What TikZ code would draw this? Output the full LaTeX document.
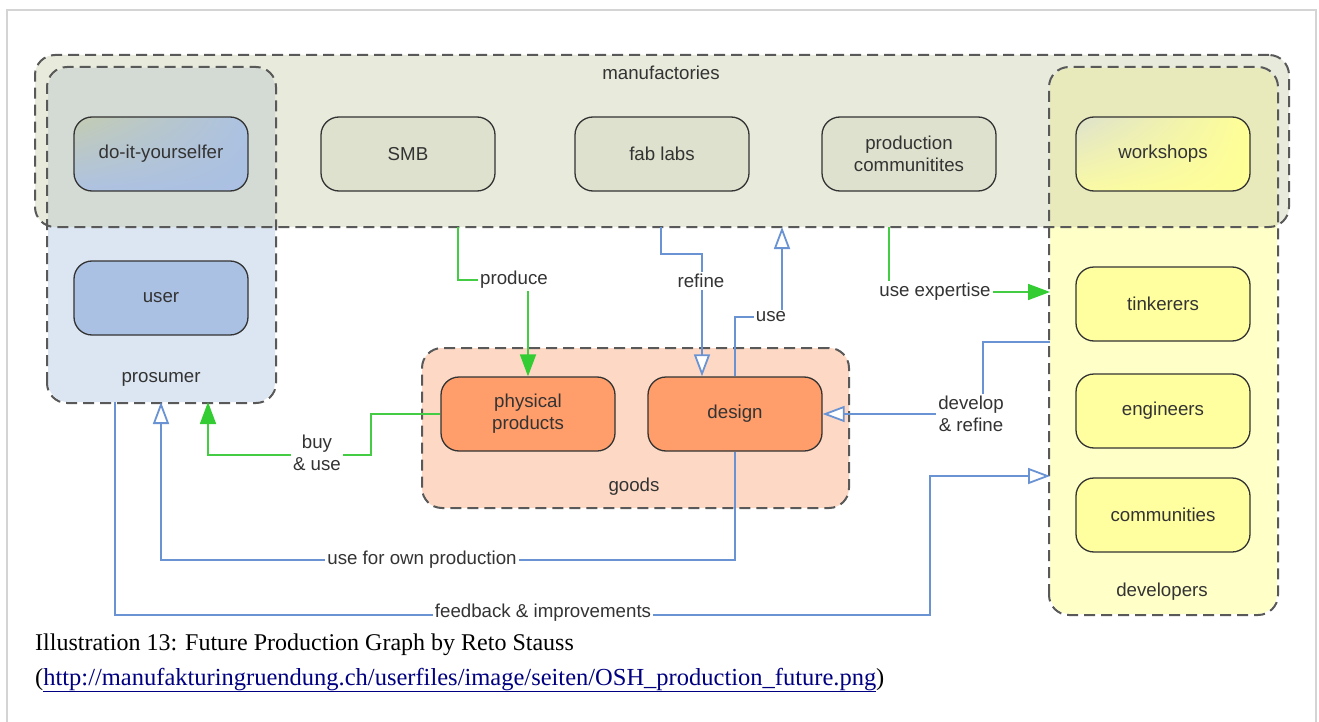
\documentclass[tikz,border=0pt]{standalone}
\usepackage{fontspec}
\newfontfamily\labfont{Liberation Sans}
\newfontfamily\capfont{Liberation Serif}
\usetikzlibrary{arrows.meta,calc,shadings}

\definecolor{manuf}{RGB}{198,203,168}
\definecolor{prosfill}{RGB}{220,230,242}
\definecolor{devfill}{RGB}{255,255,200}
\definecolor{goodsfill}{RGB}{253,217,197}
\definecolor{mnode}{RGB}{222,225,205}
\definecolor{unode}{RGB}{171,193,227}
\definecolor{ynode}{RGB}{255,255,160}
\definecolor{onode}{RGB}{255,158,107}
\definecolor{txt}{RGB}{51,51,51}
\definecolor{edgeblue}{RGB}{106,147,212}
\definecolor{edgegreen}{RGB}{68,204,68}
\definecolor{arrowgreen}{RGB}{51,204,51}
\definecolor{framegray}{RGB}{212,212,212}
\definecolor{linkblue}{RGB}{0,0,128}
% gradient corners of the two mixed-role boxes
\definecolor{diyUL}{RGB}{196,204,178}
\definecolor{diyUR}{RGB}{172,194,226}
\definecolor{diyLL}{RGB}{174,194,226}
\definecolor{diyLR}{RGB}{170,192,226}
\definecolor{wsUL}{RGB}{222,226,205}
\definecolor{wsUR}{RGB}{255,255,150}
\definecolor{wsLL}{RGB}{250,250,165}
\definecolor{wsLR}{RGB}{255,255,150}

\tikzset{
  x=1pt, y=-1pt,
  sansfont/.style={font=\labfont\fontsize{18.7}{22}\selectfont, text=txt},
  group/.style={draw=black!65, line width=2pt, dash pattern=on 11pt off 6pt,
    rounded corners=20pt, inner sep=0pt},
  groupborder/.style={draw=black!65, line width=2pt, dash pattern=on 11pt off 6pt,
    rounded corners=20pt},
  box/.style={sansfont, draw=black!80, line width=1.3pt, rounded corners=18pt,
    minimum width=174pt, minimum height=74pt, align=center, inner sep=0pt},
  grouplabel/.style={sansfont, inner sep=0pt},
  lbl/.style={sansfont, fill=white, inner sep=2pt, align=center},
  blueline/.style={draw=edgeblue, line width=1.8pt,
    -{Triangle[open, fill=white, length=22pt, width=16pt]}},
  greenline/.style={draw=edgegreen, line width=1.8pt,
    -{Triangle[length=22pt, width=16pt, fill=arrowgreen, color=arrowgreen]}},
}

\begin{document}
\begin{tikzpicture}
\path[use as bounding box, fill=white] (0,0) rectangle (1319,722);
% page frame
\draw[framegray, line width=1.5pt] (7,722) -- (7,10) -- (1316,10) -- (1316,722);

% group areas
\node[group, draw=none, fill=prosfill, minimum width=227pt, minimum height=334pt] (pros) at (161.5,235) {};
\node[group, draw=none, fill=devfill, minimum width=227pt, minimum height=546pt] (dev) at (1163.5,341) {};
\node[group, fill=manuf, fill opacity=0.4, minimum width=1254pt, minimum height=172pt] (manuf) at (662,141) {};
\path[groupborder] (pros.south west) rectangle (pros.north east);
\path[groupborder] (dev.south west) rectangle (dev.north east);
\node[group, fill=goodsfill, minimum width=427pt, minimum height=160pt] (goods) at (635.5,428) {};

\node[grouplabel] (manuflbl) at (661,73) {manufactories};
\node[grouplabel] (proslbl) at (161,379) {prosumer};
\node[grouplabel] (goodslbl) at (634,487) {goods};
\node[grouplabel] (devlbl) at (1162,592) {developers};

% actors
\node[box, upper left=diyUL, upper right=diyUR, lower left=diyLL, lower right=diyLR] (diy) at (161,154) {do-it-yourselfer};
\node[box, fill=mnode] (smb) at (408,154) {SMB};
\node[box, fill=mnode] (fab) at (662,154) {fab labs};
\node[box, fill=mnode] (pcom) at (909,154) {production\\communitites};
\node[box, upper left=wsUL, upper right=wsUR, lower left=wsLL, lower right=wsLR] (work) at (1163,154) {workshops};
\node[box, fill=unode] (user) at (161,298) {user};
\node[box, fill=ynode] (tink) at (1163,304) {tinkerers};
\node[box, fill=ynode] (eng) at (1163,411) {engineers};
\node[box, fill=ynode] (comm) at (1163,515) {communities};
\node[box, fill=onode] (phys) at (528,414) {physical\\products};
\node[box, fill=onode] (design) at (735,414) {design};

% connector end points on group borders
\coordinate (mp) at (458,227);
\coordinate (mr) at (661,227);
\coordinate (mu) at (782,227);
\coordinate (me) at (889,227);
\coordinate (dx) at (1050,292);
\coordinate (dd) at (1050,342);
\coordinate (df) at (1050,476);
\coordinate (ps1) at (208,402);
\coordinate (ps2) at (161,402);
\coordinate (ps3) at (115,402);
% label positions
\coordinate (c-produce) at (514,280);
\coordinate (c-refine) at (701,281);
\coordinate (c-use) at (771,317);
\coordinate (c-expert) at (935,292);
\coordinate (c-develop) at (971,414);
\coordinate (c-buy) at (317,453);
\coordinate (c-own) at (422,560);
\coordinate (c-feed) at (543,613);

% connectors
\draw[greenline] (mp) |- (phys.north |- c-produce) -- (phys.north);
\draw[blueline] (mr) -- ++(0,27) -| ($(design.north)+(-33,0)$);
\draw[blueline] (design.north) |- ($(mu)+(0,90)$) -- (mu);
\draw[greenline] (me) |- (dx);
\draw[blueline] (dd) -| ($(design.east)+(160,0)$) -- (design.east);
\draw[greenline] (phys.west) -- ++(-69,0) |- ($(ps1)+(0,53)$) -- (ps1);
\draw[blueline] (design.south) |- ($(ps2)+(0,158)$) -- (ps2);
\draw[blueline] (ps3) -- ++(0,213) -| ($(df)+(-120,0)$) -- (df);

% connector labels
\node[lbl] (l-produce) at (c-produce) {produce};
\node[lbl] (l-refine) at (c-refine) {refine};
\node[lbl] (l-use) at (c-use) {use};
\node[lbl] (l-expert) at (c-expert) {use expertise};
\node[lbl] (l-develop) at (c-develop) {develop\\\& refine};
\node[lbl] (l-buy) at (c-buy) {buy\\\& use};
\node[lbl] (l-own) at (c-own) {use for own production};
\node[lbl] (l-feed) at (c-feed) {feedback \& improvements};

% caption
\node[anchor=base west, inner sep=0pt, font=\capfont\fontsize{24}{28}\selectfont] (cap1) at (35,650)
  {Illustration 13: Future Production Graph by Reto Stauss};
\node[anchor=base west, inner sep=0pt, font=\capfont\fontsize{24.5}{28}\selectfont] (cap2) at (35,685)
  {(\textcolor{linkblue}{\underline{http://manufakturingruendung.ch/userfiles/image/seiten/OSH\_production\_future.png}})};
\end{tikzpicture}
\end{document}
